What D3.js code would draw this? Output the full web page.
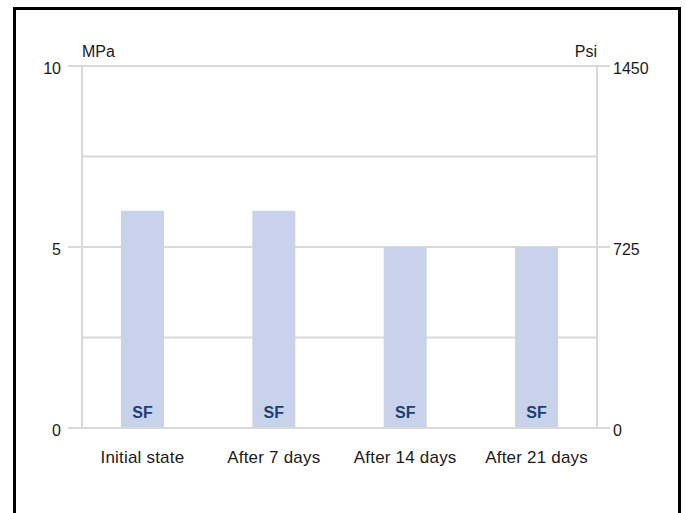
<!DOCTYPE html>
<html>
<head>
<meta charset="utf-8">
<script src="https://cdn.jsdelivr.net/npm/d3@7"></script>
<style>
  html, body { margin: 0; padding: 0; background: #fff; }
  svg { display: block; font-family: "Liberation Sans", Arial, Helvetica, sans-serif; }
</style>
</head>
<body>
<svg id="chart" width="686" height="513"></svg>
<script>
// chart data
const categories = ['Initial state', 'After 7 days', 'After 14 days', 'After 21 days'];
const mpaValues = [6, 6, 5, 5];
const barLabels = ['SF', 'SF', 'SF', 'SF'];
const mpaTicks = [0, 5, 10];
const psiTicks = [0, 725, 1450];
const gridValues = [0, 2.5, 5, 7.5, 10];

const svg = d3.select('#chart');
// plot edges (note: "top" clashes with window.top)
const plotLeft = 82, plotRight = 597, plotTop = 66, plotBottom = 428;
const grey = '#d9d9d9';

// frame (no bottom edge)
svg.append('path')
   .attr('d', `M14.5,513 V8.5 H679.5 V513`)
   .attr('fill', 'none')
   .attr('stroke', '#000')
   .attr('stroke-width', 3);

const x = d3.scalePoint().domain(categories).range([plotLeft, plotRight]).padding(0.46);
const y = d3.scaleLinear().domain([0, 10]).range([plotBottom, plotTop]);
const yPsi = d3.scaleLinear().domain([0, 1450]).range([plotBottom, plotTop]);

// gridlines
svg.append('g').selectAll('line')
   .data(gridValues)
   .join('line')
   .attr('x1', d => (d % 5 === 0 ? plotLeft - 14 : plotLeft))
   .attr('x2', d => (d % 5 === 0 ? plotRight + 13 : plotRight))
   .attr('y1', d => y(d)).attr('y2', d => y(d))
   .attr('stroke', grey).attr('stroke-width', 2);

// vertical axis lines
svg.append('g').selectAll('line')
   .data([plotLeft, plotRight])
   .join('line')
   .attr('x1', d => d).attr('x2', d => d)
   .attr('y1', plotTop - 1).attr('y2', plotBottom + 1)
   .attr('stroke', grey).attr('stroke-width', 2);

// bars
const barW = 43;
svg.append('g').selectAll('rect')
   .data(mpaValues)
   .join('rect')
   .attr('x', (d, i) => x(categories[i]) - barW / 2)
   .attr('width', barW)
   .attr('y', d => y(d))
   .attr('height', d => y(0) - y(d) - 1)
   .attr('fill', '#c9d2eb');

// SF labels
svg.append('g').selectAll('text')
   .data(barLabels)
   .join('text')
   .attr('x', (d, i) => x(categories[i]))
   .attr('y', y(0) - 10)
   .attr('text-anchor', 'middle')
   .attr('font-size', 16)
   .attr('font-weight', 'bold')
   .attr('fill', '#1d3f73')
   .text(d => d);

// category labels
svg.append('g').selectAll('text')
   .data(categories)
   .join('text')
   .attr('x', d => x(d))
   .attr('y', 463)
   .attr('text-anchor', 'middle')
   .attr('font-size', 17)
   .attr('letter-spacing', 0.2)
   .attr('fill', '#1a1a1a')
   .text(d => d);

// left tick labels
svg.append('g').selectAll('text')
   .data(mpaTicks)
   .join('text')
   .attr('x', 61)
   .attr('y', d => y(d) + 2)
   .attr('dy', '0.35em')
   .attr('text-anchor', 'end')
   .attr('font-size', 16)
   .attr('fill', '#1a1a1a')
   .text(d => d);

// right tick labels
svg.append('g').selectAll('text')
   .data(psiTicks)
   .join('text')
   .attr('x', 613)
   .attr('y', d => yPsi(d) + 2)
   .attr('dy', '0.35em')
   .attr('text-anchor', 'start')
   .attr('font-size', 16)
   .attr('fill', '#1a1a1a')
   .text(d => d);

// units
svg.append('text').attr('x', plotLeft).attr('y', 57)
   .attr('font-size', 16).attr('fill', '#1a1a1a').text('MPa');
svg.append('text').attr('x', plotRight).attr('y', 57)
   .attr('text-anchor', 'end')
   .attr('font-size', 16).attr('fill', '#1a1a1a').text('Psi');
</script>
</body>
</html>
